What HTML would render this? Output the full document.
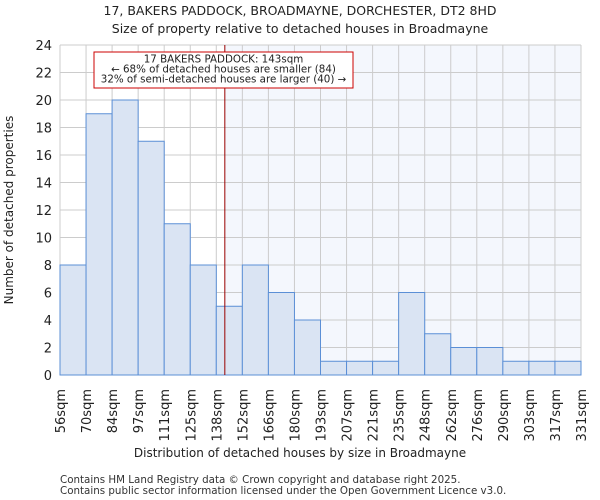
<!DOCTYPE html>
<html><head><meta charset="utf-8"><style>
body{margin:0;background:#fff}
svg{font-family:"DejaVu Sans","Liberation Sans",sans-serif;display:block}
</style></head><body>
<svg id="c" width="600" height="500" xmlns="http://www.w3.org/2000/svg">
<text x="300" y="15" text-anchor="middle" font-size="12.5" fill="#222">17, BAKERS PADDOCK, BROADMAYNE, DORCHESTER, DT2 8HD</text>
<text x="300" y="33" text-anchor="middle" font-size="12.5" fill="#222">Size of property relative to detached houses in Broadmayne</text>
<g id="plot"></g>
<text x="300" y="457" text-anchor="middle" font-size="12" fill="#222">Distribution of detached houses by size in Broadmayne</text>
<text transform="translate(13,210) rotate(-90)" text-anchor="middle" font-size="12" fill="#222">Number of detached properties</text>
<text x="60" y="483" font-size="10.3" fill="#333">Contains HM Land Registry data © Crown copyright and database right 2025.</text>
<text x="60" y="494" font-size="10.3" fill="#333">Contains public sector information licensed under the Open Government Licence v3.0.</text>
</svg>
<script>
const labels=["56sqm","70sqm","84sqm","97sqm","111sqm","125sqm","138sqm","152sqm","166sqm","180sqm","193sqm","207sqm","221sqm","235sqm","248sqm","262sqm","276sqm","290sqm","303sqm","317sqm","331sqm"];
const counts=[8,19,20,17,11,8,5,8,6,4,1,1,1,6,3,2,2,1,1,1];
const yTicks=[0,2,4,6,8,10,12,14,16,18,20,22,24];
const binStart=56, binEnd=331, marker=143;
const X0=60,X1=581,Y0=375,Y1=45;
const NS="http://www.w3.org/2000/svg";
const g=document.getElementById('plot');
const nb=counts.length;
const bw=(X1-X0)/nb;
const xi=i=>X0+i*bw;
const xv=v=>X0+(v-binStart)/(binEnd-binStart)*(X1-X0);
const y=v=>Y0-v/24*(Y0-Y1);
function el(t,a){const e=document.createElementNS(NS,t);for(const k in a)e.setAttribute(k,a[k]);g.appendChild(e);return e;}
const mx=xv(marker);
const sh=el('rect',{x:mx,y:Y1,width:X1-mx,height:Y0-Y1,fill:'#f4f7fd'});


yTicks.forEach(t=>{
 const l=el('line',{x1:X0,x2:X1,y1:y(t),y2:y(t),stroke:'#cccccc','stroke-width':1});
 
 
 const tx=el('text',{x:X0-8,y:y(t)+5,'text-anchor':'end','font-size':13,fill:'#222'});
 tx.textContent=t;
 
 
});
for(let i=0;i<=nb;i++){
 const l=el('line',{x1:xi(i),x2:xi(i),y1:Y1,y2:Y0,stroke:'#cccccc','stroke-width':1});
 
 
}
counts.forEach((c,i)=>{
 const r=el('rect',{x:xi(i),y:y(c),width:bw,height:Y0-y(c),fill:'#dae4f3',stroke:'#5b8fd6','stroke-width':1});
 
 
});
labels.forEach((s,i)=>{
 const t=el('text',{transform:`translate(${xi(i)+5},389) rotate(-90)`,'text-anchor':'end','font-size':13,fill:'#222'});
 t.textContent=s;
 
 
});
const ml=el('line',{x1:mx,x2:mx,y1:Y1,y2:Y0,stroke:'#990000','stroke-width':1});


const box=el('rect',{x:94,y:52,width:259,height:36,fill:'#fff',stroke:'#cc0000','stroke-width':1});


["17 BAKERS PADDOCK: 143sqm","← 68% of detached houses are smaller (84)","32% of semi-detached houses are larger (40) →"].forEach((s,k)=>{
 const t=el('text',{x:223.5,y:62.5+k*10,'text-anchor':'middle','font-size':10.3,fill:'#222'});
 t.textContent=s;
 
 
});
</script>
</body></html>
